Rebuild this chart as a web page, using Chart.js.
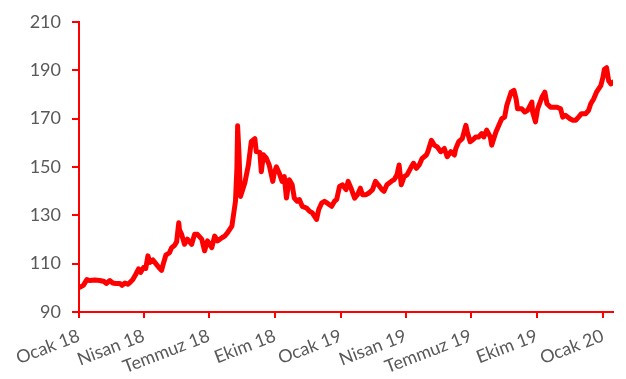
<!DOCTYPE html>
<html>
<head>
<meta charset="utf-8">
<script src="https://cdn.jsdelivr.net/npm/chart.js@4"></script>
<style>
  html, body { margin: 0; padding: 0; background: #fff; }
  #wrap { width: 626px; height: 379px; position: relative; }
</style>
</head>
<body>
<div id="wrap"><canvas id="c"></canvas></div>
<script>
// Days since 1 Jan 2018
const days = [1,6,11,15,22,29,35,38,43,47,51,57,60,64,68,71,75,79,83,86,90,93,96,99,103,107,111,115,118,121,126,129,133,136,139,140,143,147,151,157,161,165,171,175,179,185,189,193,199,203,207,213,215,218,220,221,223,225,231,236,240,245,247,252,254,257,261,265,270,272,275,279,283,286,289,293,297,300,304,307,311,317,321,325,331,334,338,342,346,352,356,359,363,367,372,375,379,384,388,392,395,400,404,409,413,417,422,425,429,435,439,443,446,449,453,457,463,466,470,474,478,484,486,491,495,499,504,509,513,518,523,525,529,534,539,541,545,548,553,557,561,564,568,573,575,581,585,589,593,596,602,606,609,611,617,621,625,631,632,636,639,645,649,652,657,662,666,671,674,678,684,688,692,696,700,706,710,713,717,721,727,730,732,735,738,741,744];
const values = [100.2,101,103.4,103,103.2,103,102.6,101.8,103,102,101.8,101.8,101,102,101.5,102.2,103.4,105.5,107.8,106.4,108.4,108,113.2,110.5,111.5,110,108.5,107.2,110.5,113.5,114.5,116.6,117.5,119,126.9,124,122.1,118,120.1,118,122.1,122.1,120.1,115.3,119.4,116.6,121.4,119.4,120.7,121.4,122.8,125.5,129.6,135.8,149.4,167,155,137.8,143.3,150.8,160.4,161.7,156.3,156,148,155,153.6,150.8,144,147.4,150,147.4,144,146,137.1,144.7,142.6,137.1,135.8,136.5,133.7,133,131.7,131,128.3,132.4,135,135.8,135,133.7,135.8,136.5,141.9,142.6,140.6,144,141.2,137.1,138.5,141.2,138.5,138.5,139.2,140.6,144,142.6,140.6,139.9,142.6,144,144.7,146.7,150.8,142.6,146,146.7,150,151.5,149.4,150.8,153.5,154.9,156.3,161,159,158.3,156.3,157.6,154.2,156.3,154.9,157.6,160.4,161.7,167.2,164.5,160.4,161,162.4,162.4,163.8,162.4,165.2,162.4,159,164.5,167.2,169.9,170.6,175.4,180.9,181.6,178.1,174,174,172.7,173.4,176.8,172.7,168.6,174,178.8,180.9,176.1,174.7,174.7,174.7,174,170.6,171.3,169.9,169.3,169.3,170.6,172,172,173.4,176.1,178.1,180.9,183.6,187,190.4,191,185.6,184.3,185];
const tickDays = [0, 90, 181, 273, 365, 455, 546, 638, 730];
const tickLabels = ['Ocak 18','Nisan 18','Temmuz 18','Ekim 18','Ocak 19','Nisan 19','Temmuz 19','Ekim 19','Ocak 20'];
const yTicks = [90, 110, 130, 150, 170, 190, 210];

const FONT = { family: 'Lato', size: 18 };
const TXT = '#595959';
const RED = '#ff0000';

new Chart(document.getElementById('c'), {
  type: 'line',
  data: {
    datasets: [{
      data: days.map((d, i) => ({ x: d, y: values[i] })),
      borderColor: RED,
      borderWidth: 5,
      pointRadius: 0,
      tension: 0,
      borderJoinStyle: 'round',
      borderCapStyle: 'round',
      fill: false
    }]
  },
  options: {
    responsive: true,
    maintainAspectRatio: false,
    animation: false,
    layout: { padding: { top: 8, right: 13, left: 0, bottom: 0 } },
    plugins: { legend: { display: false }, tooltip: { enabled: false } },
    scales: {
      x: {
        type: 'linear',
        min: 0,
        max: 744,
        afterBuildTicks: s => { s.ticks = tickDays.map(v => ({ value: v })); },
        afterFit: s => { s.height = 67; },
        ticks: {
          autoSkip: false,
          minRotation: 21,
          maxRotation: 21,
          color: TXT,
          font: FONT,
          padding: 7,
          callback: v => { const i = tickDays.indexOf(v); return i >= 0 ? tickLabels[i] : ''; }
        },
        grid: { drawOnChartArea: false, drawTicks: true, tickLength: 6, color: RED, lineWidth: 2 },
        border: { color: RED, width: 2 }
      },
      y: {
        min: 90,
        max: 210,
        afterBuildTicks: s => { s.ticks = yTicks.map(v => ({ value: v })); },
        afterFit: s => { s.width = 79; },
        ticks: { color: TXT, font: FONT, padding: 11 },
        grid: { drawOnChartArea: false, drawTicks: true, tickLength: 7, color: RED, lineWidth: 2 },
        border: { color: RED, width: 2 }
      }
    }
  }
});
</script>
</body>
</html>
